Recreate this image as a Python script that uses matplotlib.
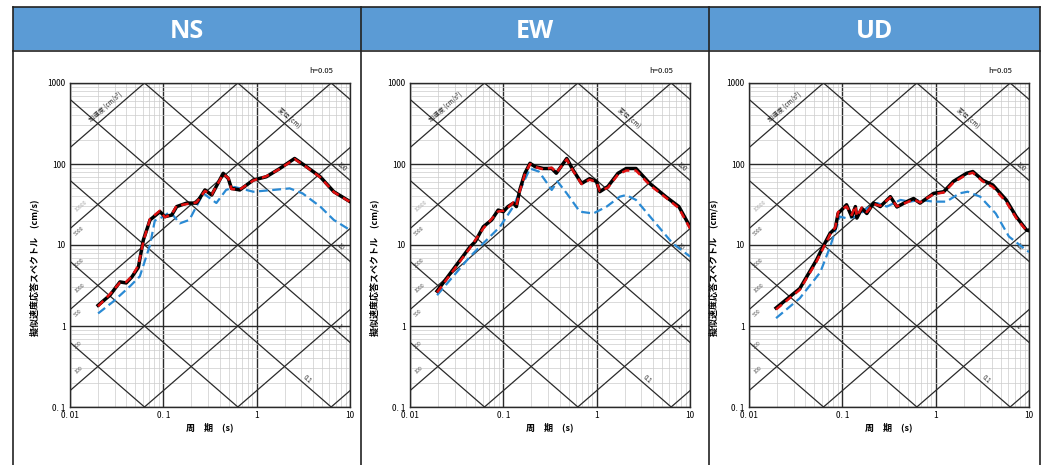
import matplotlib.pyplot as plt
from matplotlib.patches import Rectangle
from matplotlib.lines import Line2D
import numpy as np

plt.rcParams['font.family'] = ['Noto Sans CJK JP', 'DejaVu Sans']

# panel titles
titles = ['NS', 'EW', 'UD']

# period (s) / pseudo velocity (cm/s)
ns_black_t = [0.02, 0.0268, 0.0343, 0.04, 0.0458, 0.054, 0.061, 0.072, 0.092, 0.104, 0.123, 0.139,
              0.178, 0.227, 0.279, 0.33, 0.438, 0.497, 0.537, 0.66, 0.92, 1.27, 1.77, 2.55, 3.4, 4.8, 6.7, 10]
ns_black_v = [1.8, 2.4, 3.5, 3.4, 4.0, 5.3, 11.5, 20.4, 25.8, 22.4, 23.4, 29.8,
              32.9, 32.9, 47.8, 41.4, 76.7, 66, 50, 47.8, 63.4, 69.6, 88, 117, 93, 69.6, 45.5, 34.3]
ns_red_t = [0.02, 0.027, 0.034, 0.04, 0.046, 0.054, 0.061, 0.072, 0.092, 0.104, 0.123, 0.139,
            0.178, 0.227, 0.279, 0.33, 0.438, 0.497, 0.537, 0.66, 0.92, 1.27, 1.77, 2.55, 3.4, 4.8, 6.7, 10]
ns_red_v = [1.75, 2.5, 3.4, 3.5, 4.1, 5.6, 11.0, 21.0, 26.5, 22.0, 24.0, 30.5,
            32.0, 33.5, 46.5, 42.0, 75.0, 67, 49, 48.5, 62.5, 70.5, 87, 115, 92, 68.5, 45.0, 34.0]
ns_blue_t = [0.02, 0.029, 0.044, 0.056, 0.072, 0.081, 0.1, 0.118, 0.15, 0.19, 0.268, 0.37, 0.47,
             0.58, 0.92, 1.5, 2.26, 3.1, 4.8, 6.7, 10]
ns_blue_v = [1.43, 2.0, 3.1, 4.1, 10, 20, 22.4, 25.8, 18.5, 20.4, 43.4, 33, 47.8,
             52, 45.5, 47.8, 50, 43.4, 29.8, 20.4, 15.3]

ew_black_t = [0.0195, 0.044, 0.05, 0.061, 0.075, 0.088, 0.1, 0.112, 0.128, 0.138, 0.15, 0.17, 0.193,
              0.218, 0.268, 0.33, 0.37, 0.478, 0.56, 0.69, 0.84, 0.995, 1.08, 1.32, 1.69, 2.07, 2.64,
              3.7, 5.5, 7.6, 10]
ew_black_v = [2.7, 9.5, 11, 16.8, 20.4, 27, 25.8, 29.8, 32.9, 29.8, 47.8, 76.7, 102,
              93, 88, 88, 77, 117, 84, 57.6, 66, 61, 45.5, 52.8, 76.7, 88, 88,
              57.6, 39.5, 29.8, 16.8]
ew_red_t = [0.0195, 0.044, 0.05, 0.061, 0.075, 0.088, 0.1, 0.112, 0.128, 0.138, 0.15, 0.17, 0.193,
            0.218, 0.268, 0.33, 0.37, 0.478, 0.56, 0.69, 0.84, 0.995, 1.08, 1.32, 1.69, 2.07, 2.64,
            3.7, 5.5, 7.6, 10]
ew_red_v = [2.6, 9.2, 11.5, 16.0, 21.0, 26, 26.5, 29.0, 33.5, 30.5, 46.0, 75.0, 100,
            92, 86, 90, 78, 114, 82, 56.5, 64, 60, 46.5, 51.0, 74.0, 83, 83,
            55.0, 38.5, 28.5, 16.0]
ew_blue_t = [0.0195, 0.044, 0.061, 0.092, 0.128, 0.163, 0.193, 0.24, 0.28, 0.33, 0.38, 0.478, 0.66,
             0.92, 1.28, 1.77, 2.07, 2.64, 4.0, 6.5, 10]
ew_blue_v = [2.4, 7.2, 10.5, 16.8, 29.8, 57.6, 88, 80.7, 63, 47.8, 61, 43.4, 25.8,
             24.5, 29.8, 39.5, 41.4, 36, 20.4, 10.5, 7.2]

ud_black_t = [0.0195, 0.035, 0.0528, 0.062, 0.074, 0.084, 0.09, 0.111, 0.126, 0.138, 0.143, 0.162,
              0.183, 0.216, 0.255, 0.327, 0.385, 0.49, 0.58, 0.68, 0.95, 1.22, 1.55, 2.14, 2.5, 3.2,
              4.1, 5.7, 7.3, 9.4, 10]
ud_black_v = [1.67, 2.9, 6.5, 9.5, 14, 16, 24.5, 31.4, 22.4, 29.8, 21.5, 28.3,
              24.5, 33, 29.8, 39.5, 29.5, 34.3, 37.5, 32.9, 43.4, 45.5, 61, 76.7, 80.7, 63,
              55, 36, 22.4, 15.3, 15]
ud_red_t = [0.0195, 0.035, 0.0528, 0.062, 0.074, 0.084, 0.09, 0.111, 0.126, 0.138, 0.143, 0.162,
            0.183, 0.216, 0.255, 0.327, 0.385, 0.49, 0.58, 0.68, 0.95, 1.22, 1.55, 2.14, 2.5, 3.2,
            4.1, 5.7, 7.3, 9.4, 10]
ud_red_v = [1.6, 2.8, 6.2, 9.0, 13.5, 16.5, 25.5, 30.0, 23.5, 30.5, 22.5, 29.0,
            25.5, 32, 30.5, 38.5, 30.0, 33.5, 36.5, 33.5, 42.5, 44.5, 59, 74.0, 78.0, 61,
            52, 34, 21.5, 15.0, 14.5]
ud_blue_t = [0.0195, 0.035, 0.058, 0.074, 0.094, 0.111, 0.143, 0.183, 0.235, 0.3, 0.42, 0.53, 0.68,
             0.95, 1.3, 1.8, 2.2, 3.0, 4.4, 6.1, 9.4, 10]
ud_blue_v = [1.25, 2.2, 4.6, 9.5, 22.4, 21.4, 22.4, 28.3, 33, 29.8, 36, 34.3, 36,
             34.3, 34.3, 43.4, 45.5, 39.5, 24.5, 12.7, 8.6, 8.2]

panels = [
    (ns_black_t, ns_black_v, ns_red_t, ns_red_v, ns_blue_t, ns_blue_v),
    (ew_black_t, ew_black_v, ew_red_t, ew_red_v, ew_blue_t, ew_blue_v),
    (ud_black_t, ud_black_v, ud_red_t, ud_red_v, ud_blue_t, ud_blue_v),
]

# tripartite diagonal values
accel_lines = [0.1, 1, 10, 100, 1000, 10000, 100000, 1000000]
disp_lines = [0.0001, 0.001, 0.01, 0.1, 1, 10, 100, 1000]
accel_labels = ['10000', '5000', '2000', '1000', '500', '200', '100']
disp_labels = [('100', 100, 7.0), ('10', 10, 7.0), ('1', 1, 7.0), ('0.1', 0.1, 3.0)]

W, H = 1045, 465
fig = plt.figure(figsize=(W / 100, H / 100), dpi=100)

# header boxes and frame lines
blue = '#5b9bd5'
col_x = [13, 361, 709, 1040]
for i in range(3):
    x0, x1 = col_x[i], col_x[i + 1]
    fig.patches.append(Rectangle((x0 / W, 1 - 50 / H), (x1 - x0) / W, 43 / H,
                                 transform=fig.transFigure, facecolor=blue,
                                 edgecolor='none'))
    fig.text((x0 + x1) / 2 / W, 1 - 31 / H, titles[i], color='white', fontsize=18,
             fontweight='bold', family=['Open Sans', 'DejaVu Sans'],
             ha='center', va='center')
for x in col_x:
    fig.add_artist(Line2D([x / W, x / W], [0, 1 - 7 / H], color='#222222', lw=1.2))
fig.add_artist(Line2D([13 / W, 1040 / W], [1 - 7 / H, 1 - 7 / H], color='#222222', lw=1.2))
fig.add_artist(Line2D([13 / W, 1040 / W], [1 - 51 / H, 1 - 51 / H], color='#222222', lw=1.2))

ax_left = [70, 410, 749]
ax_w, ax_top, ax_h = 280, 83, 324
ang = np.degrees(np.arctan((ax_h / 4) / (ax_w / 3)))

for i, (bt, bv, rt, rv, ut, uv) in enumerate(panels):
    ax = fig.add_axes([ax_left[i] / W, 1 - (ax_top + ax_h) / H, ax_w / W, ax_h / H])
    ax.set_xscale('log')
    ax.set_yscale('log')
    ax.set_xlim(0.01, 10)
    ax.set_ylim(0.1, 1000)

    ax.grid(True, which='minor', color='#cccccc', lw=0.5)
    ax.grid(True, which='major', color='#2a2a2a', lw=1.0)
    ax.set_axisbelow(True)

    # diagonal lines
    T = np.array([0.01, 10])
    for a in accel_lines:
        ax.plot(T, a * T / (2 * np.pi), color='#2a2a2a', lw=0.9, zorder=1)
    for d in disp_lines:
        ax.plot(T, 2 * np.pi * d / T, color='#2a2a2a', lw=0.9, zorder=1)

    ax.text(0.0175, 1e5 * 0.0175 / (2 * np.pi) * 1.15, '加速度 (cm/s²)', fontsize=4.5,
            rotation=ang, rotation_mode='anchor', ha='left', va='bottom', color='#222222')
    ax.text(1.6, 2 * np.pi * 100 / 1.6 * 1.1, '変位 (cm)', fontsize=4.5,
            rotation=-ang, rotation_mode='anchor', ha='left', va='bottom', color='#222222')
    for j, s in enumerate(accel_labels):
        a = float(s)
        ax.text(0.0118, a * 0.0118 / (2 * np.pi) * 1.35, s, fontsize=3.8,
                rotation=ang, rotation_mode='anchor', ha='left', va='bottom',
                color='#aaaaaa' if j == 0 else '#555555')
    for s, d, t in disp_labels:
        ax.text(t, 2 * np.pi * d / t * 1.05, s, fontsize=4.5, rotation=-ang,
                rotation_mode='anchor', ha='left', va='bottom', color='#222222')

    ax.plot(bt, bv, color='black', lw=2.5, zorder=4)
    ax.plot(rt, rv, color='#e01010', lw=1.8, ls=(0, (3, 2)), zorder=5)
    ax.plot(ut, uv, color='#2a8ad4', lw=1.6, ls=(0, (4, 2)), zorder=3)

    ax.set_xticks([0.01, 0.1, 1, 10])
    ax.set_xticklabels(['0. 01', '0. 1', '1', '10'])
    ax.set_yticks([0.1, 1, 10, 100, 1000])
    ax.set_yticklabels(['0. 1', '1', '10', '100', '1000'])
    ax.tick_params(which='both', length=0, labelsize=6, pad=3)
    for sp in ax.spines.values():
        sp.set_color('#2a2a2a')
        sp.set_linewidth(1.0)

    ax.set_xlabel('周　期　(s)', fontsize=6.5, fontweight='bold', labelpad=2)
    ax.set_ylabel('擬似速度応答スペクトル　(cm/s)', fontsize=6.5, fontweight='bold')
    ax.yaxis.set_label_coords(-0.11, 0.43)
    ax.text(0.94, 1.025, 'h=0.05', transform=ax.transAxes, fontsize=5.5,
            ha='right', va='bottom')

fig.savefig('out.png', dpi=100)
